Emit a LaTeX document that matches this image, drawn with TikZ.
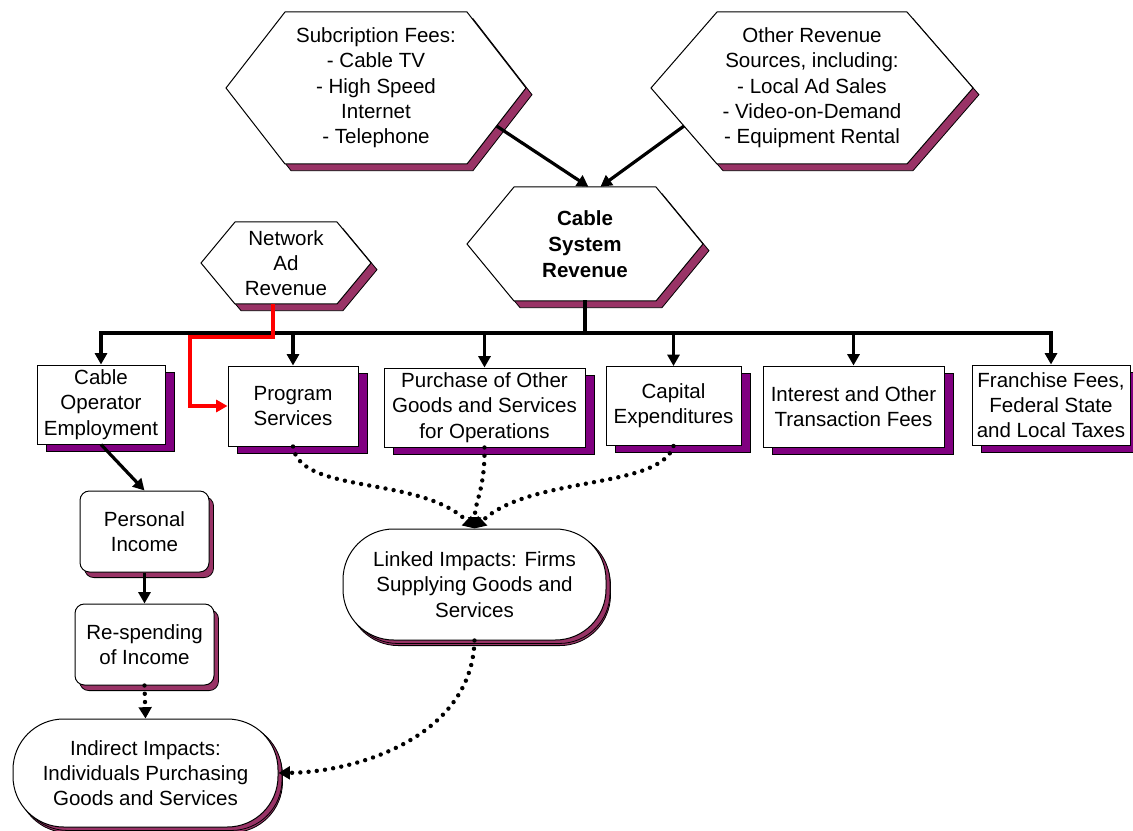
\documentclass[tikz,border=0pt]{standalone}
\usepackage{fontspec}
\setmainfont{Liberation Sans}
\usetikzlibrary{arrows.meta,shadows,calc}
\definecolor{maroonshade}{RGB}{153,51,102}
\definecolor{purpleshade}{RGB}{128,0,128}
\tikzset{
  every node/.style={font=\fontsize{15.4pt}{19pt}\selectfont, align=center, inner sep=0pt},
  hexline/.style={draw=black, line width=0.75pt, fill=white,
    drop shadow={shadow xshift=4.5pt, shadow yshift=-5pt, fill=maroonshade, draw=black, line width=0.6pt, opacity=1}},
  costbox/.style={draw=black, line width=0.75pt, fill=white,
    drop shadow={shadow xshift=7pt, shadow yshift=-5.25pt, fill=purpleshade, draw=black, line width=0.6pt, opacity=1}},
  incomebox/.style={draw=black, line width=0.75pt, fill=white, rounded corners=7pt,
    drop shadow={shadow xshift=3.4pt, shadow yshift=-4.2pt, fill=maroonshade, draw=black, line width=0.6pt, opacity=1}},
  impactbox/.style={incomebox, rounded corners=38pt,
    drop shadow={shadow xshift=3pt, shadow yshift=-2.6pt, fill=maroonshade, draw=black, line width=0.6pt, opacity=1}},
  trunk/.style={line width=2.5pt, line cap=rect},
  flow/.style={line width=2.4pt, -{Triangle[length=8.5pt,width=9pt]}},
  adflow/.style={line width=2.4pt, draw=red, -{Triangle[length=8.5pt,width=9pt,fill=red]}},
  dotflow/.style={line width=3.3pt, line cap=round, dash pattern=on 0pt off 6.2pt, -{Triangle[length=8.5pt,width=9.5pt]}}
}
% [options] name, x, y, half top edge, half height, slant, text
\newcommand{\hexsource}[8][]{%
  \draw[hexline, shift={(#3,#4)}] (-#5-#7,0) -- (-#5,-#6) -- (#5,-#6) -- (#5+#7,0) -- (#5,#6) -- (-#5,#6) -- cycle;
  \node[#1, minimum width={1.5pt*#5}, minimum height={1.5pt*#6}] (#2) at (#3,#4) {#8};
  \coordinate (#2-se) at ($(#3,#4)+(#5+#7/2,#6/2)$);
  \coordinate (#2-sw) at ($(#3,#4)+(-#5-#7/2,#6/2)$);
}
\begin{document}
\begin{tikzpicture}[x=0.75pt,y=-0.75pt]
\useasboundingbox (0,0) rectangle (1133,831);

% revenue sources
\hexsource{sub}{376}{88}{91}{76}{59}{Subcription Fees:\\- Cable TV\\- High Speed\\Internet\\- Telephone}
\hexsource{orv}{812}{88}{95}{76}{66}{Other Revenue\\Sources, including:\\- Local Ad Sales\\- Video-on-Demand\\- Equipment Rental}
\hexsource[font=\fontsize{15.4pt}{19.5pt}\selectfont\bfseries]{csr}{585}{244}{71}{57}{47}{Cable\\System\\Revenue}
\hexsource{nar}{286}{263}{51}{41}{34}{Network\\Ad\\Revenue}

% spending
\node[costbox, minimum width=96pt, minimum height=59.25pt] (coe) at (101,404.5) {Cable\\Operator\\Employment};
\node[costbox, minimum width=97.5pt, minimum height=60pt] (ps) at (293,406) {Program\\Services};
\node[costbox, minimum width=150.75pt, minimum height=59.25pt] (pur) at (484.5,407.5) {Purchase of Other\\Goods and Services\\for Operations};
\node[costbox, minimum width=101.25pt, minimum height=59.25pt] (cap) at (673.5,406) {Capital\\Expenditures};
\node[costbox, minimum width=135.75pt, minimum height=60.75pt] (itf) at (853.5,406.5) {Interest and Other\\Transaction Fees};
\node[costbox, minimum width=118.5pt, minimum height=60pt] (ffl) at (1051,405) {Franchise Fees,\\Federal State\\and Local Taxes};

% impacts
\node[incomebox, minimum width=96.75pt, minimum height=60.75pt] (pi) at (144.5,531.5) {Personal\\Income};
\node[incomebox, minimum width=104.25pt, minimum height=60.75pt] (rs) at (144.5,644.5) {Re-spending\\of Income};
\node[impactbox, minimum width=198.75pt, minimum height=81pt] (ii) at (145.5,773) {Indirect Impacts:\\Individuals Purchasing\\Goods and Services};
\node[impactbox, minimum width=197.25pt, minimum height=83.25pt] (ls) at (474.5,584.5) {Linked Impacts: Firms\\Supplying Goods and\\Services};

\draw[flow] (sub-se) -- ([xshift=2.6pt]csr.north);
\draw[flow] (orv-sw) -- ([xshift=11.6pt]csr.north);

\coordinate (bus) at (585,333);
\draw[trunk] (csr.south) -- (bus);
\draw[trunk] (coe.north |- bus) -- (ffl.north |- bus);
\foreach \b in {coe,ps,pur,cap,itf,ffl}
  \draw[flow] (\b.north |- bus) -- (\b.north);

\coordinate (adbend) at (190,337);
\draw[adflow] ([xshift=-9.75pt]nar.south) |- (adbend) |- (ps.west);

\draw[flow] (coe.south) -- (pi.north);
\draw[flow] (pi.south) -- (rs.north);
\draw[dotflow] (rs.south) -- (ii.north);

\draw[dotflow] (ps.south) .. controls (300,495) and (420,475) .. (ls.north);
\draw[dotflow] (pur.south) .. controls (485,490) and (475,500) .. (ls.north);
\draw[dotflow] (cap.south) .. controls (660,490) and (530,475) .. (ls.north);
\draw[dotflow] (ls.south) .. controls (472,735) and (360,772) .. (ii.east);
\end{tikzpicture}
\end{document}
